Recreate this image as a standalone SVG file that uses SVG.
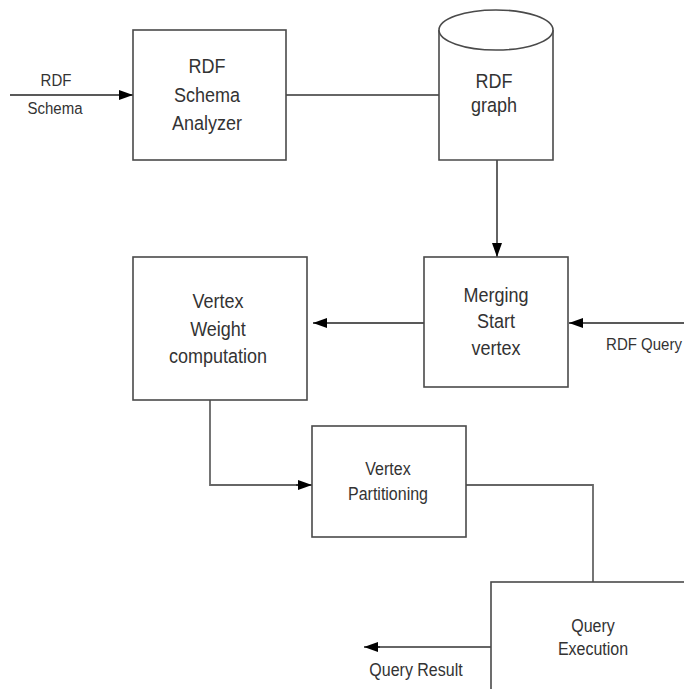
<svg xmlns="http://www.w3.org/2000/svg" width="684" height="689" viewBox="0 0 684 689">
  <defs>
    <marker id="arrow" markerWidth="14" markerHeight="10" refX="14" refY="5" orient="auto" markerUnits="userSpaceOnUse">
      <path d="M0,0 L14,5 L0,10 z" fill="#000"/>
    </marker>
    <style>
      .box { fill: #fff; stroke: #4a4a4a; stroke-width: 1.6; }
      .wire { fill: none; stroke: #222; stroke-width: 1.4; }
      .plain { fill: none; stroke: #666; stroke-width: 1.8; }
      text { font-family: "Liberation Sans", Arial, sans-serif; fill: #333; text-anchor: middle; }
      .big { font-size: 18px; }
      .mid { font-size: 16px; }
      .small { font-size: 15px; }
    </style>
  </defs>
  <rect width="684" height="689" fill="#fff"/>

  <g id="connectors">
    <path class="wire" d="M10,95 H133" marker-end="url(#arrow)"/>
    <path class="plain" d="M286,95 H439"/>
    <path class="wire" d="M497,160 V257" marker-end="url(#arrow)"/>
    <path class="wire" d="M684,323 H569" marker-end="url(#arrow)"/>
    <path class="wire" d="M424,323 H313" marker-end="url(#arrow)"/>
    <path class="plain" d="M210,400 V485 H298"/>
    <path class="wire" d="M296,485 H312" marker-end="url(#arrow)"/>
    <path class="plain" d="M466,485 H593 V582"/>
    <path class="plain" d="M491,647 H378"/>
    <path class="wire" d="M380,647 H364" marker-end="url(#arrow)"/>
  </g>

  <g id="label-rdf-schema">
    <text class="small" transform="translate(56,86) scale(1,1.16)">RDF</text>
    <text class="small" transform="translate(55,114) scale(1,1.16)">Schema</text>
  </g>

  <g id="schema-analyzer">
    <rect class="box" x="133" y="30" width="153" height="130"/>
    <text class="big" transform="translate(207,73) scale(1,1.16)">RDF</text>
    <text class="big" transform="translate(207,102) scale(1,1.16)">Schema</text>
    <text class="big" transform="translate(207,130) scale(1,1.16)">Analyzer</text>
  </g>

  <g id="rdf-graph">
    <path class="box" d="M439,30 V160 H553 V30"/>
    <ellipse class="box" cx="496" cy="30" rx="57" ry="20"/>
    <text class="big" transform="translate(494,88) scale(1,1.16)">RDF</text>
    <text class="big" transform="translate(494,112) scale(1,1.16)">graph</text>
  </g>

  <g id="merging-start-vertex">
    <rect class="box" x="424" y="257" width="144" height="130"/>
    <text class="big" transform="translate(496,302) scale(1,1.16)">Merging</text>
    <text class="big" transform="translate(496,328) scale(1,1.16)">Start</text>
    <text class="big" transform="translate(496,355) scale(1,1.16)">vertex</text>
  </g>

  <g id="label-rdf-query">
    <text class="small" transform="translate(644,350) scale(1,1.16)">RDF Query</text>
  </g>

  <g id="vertex-weight">
    <rect class="box" x="133" y="257" width="174" height="143"/>
    <text class="big" transform="translate(218,308) scale(1,1.16)">Vertex</text>
    <text class="big" transform="translate(218,336) scale(1,1.16)">Weight</text>
    <text class="big" transform="translate(218,363) scale(1,1.16)">computation</text>
  </g>

  <g id="vertex-partitioning">
    <rect class="box" x="312" y="426" width="154" height="111"/>
    <text class="mid" transform="translate(388,475) scale(1,1.16)">Vertex</text>
    <text class="mid" transform="translate(388,500) scale(1,1.16)">Partitioning</text>
  </g>

  <g id="query-execution">
    <rect class="box" x="491" y="582" width="220" height="130"/>
    <text class="mid" transform="translate(593,632) scale(1,1.16)">Query</text>
    <text class="mid" transform="translate(593,655) scale(1,1.16)">Execution</text>
  </g>

  <g id="label-query-result">
    <text class="mid" transform="translate(416,676) scale(1,1.16)">Query Result</text>
  </g>
</svg>
